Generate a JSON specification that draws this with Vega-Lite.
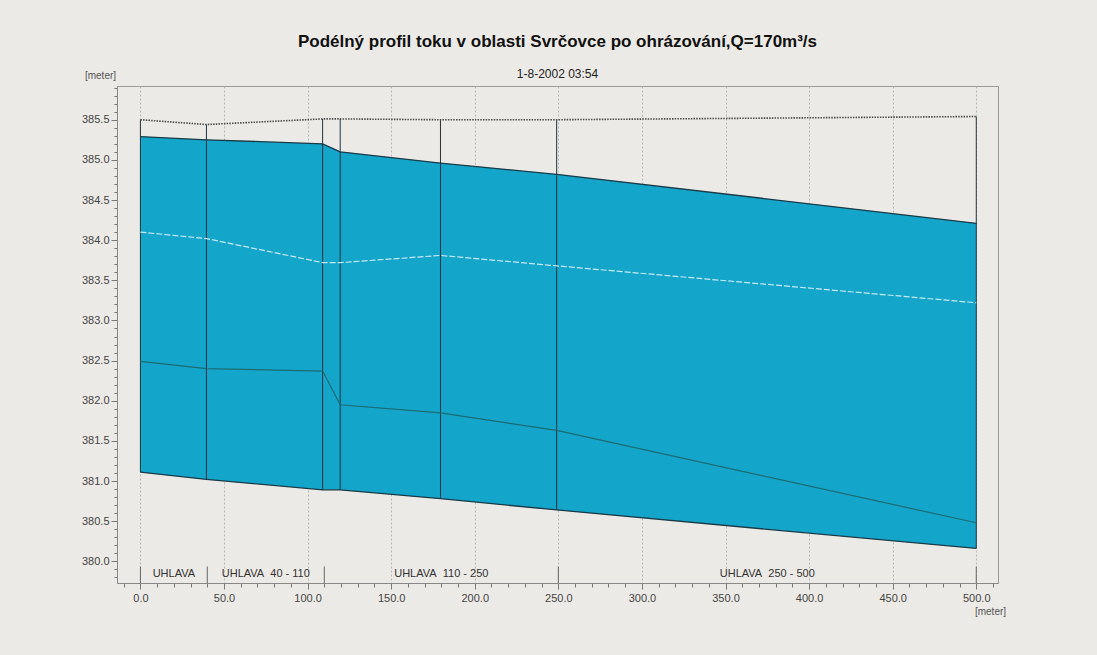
{
  "$schema": "https://vega.github.io/schema/vega-lite/v6.json",
  "width": 881,
  "height": 497,
  "autosize": {"type": "none"},
  "padding": {"left": 117, "top": 86, "right": 99, "bottom": 72},
  "background": "#eceae6",
  "config": {
    "font": "Liberation Sans",
    "view": {"stroke": "#9a9a9a", "strokeWidth": 1},
    "axisY": {
      "titleX": -17,
      "titleY": -11,
      "titleAlign": "center",
      "titleBaseline": "middle",
      "titleAngle": 0,
      "titleFont": "Liberation Sans",
      "titleFontSize": 10,
      "titleFontWeight": "normal",
      "titleColor": "#555555",
      "tickCount": 62,
      "labelExpr": "(abs(datum.value * 2 - round(datum.value * 2)) < 0.001 && datum.value >= 379.99 && datum.value <= 385.51) ? format(datum.value, '.1f') : ''",
      "labelFontSize": 11,
      "labelColor": "#444444",
      "labelPadding": 2,
      "labelOverlap": false,
      "labelFlush": false,
      "labelBound": false,
      "tickSize": {"condition": {"test": "abs(datum.value * 2 - round(datum.value * 2)) < 0.001", "value": 6}, "value": 3},
      "tickColor": "#777777",
      "domainColor": "#888888",
      "grid": true,
      "gridColor": "#aaaaaa",
      "gridDash": [2, 2],
      "gridWidth": 0.8,
      "gridOpacity": {"condition": {"test": "abs(datum.value * 2 - round(datum.value * 2)) < 0.001 && datum.value >= 379.99 && datum.value <= 385.51", "value": 1}, "value": 0}
    }
  },
  "title": {
    "text": "Podélný profil toku v oblasti Svrčovce po ohrázování,Q=170m³/s",
    "subtitle": "1-8-2002 03:54",
    "anchor": "middle",
    "frame": "group",
    "font": "Liberation Sans",
    "fontSize": 17,
    "fontWeight": "bold",
    "color": "#111111",
    "subtitleFont": "Liberation Sans",
    "subtitleFontSize": 12,
    "subtitleColor": "#222222",
    "subtitlePadding": 18,
    "offset": -11
  },
  "datasets": {
    "sections": [
      {"x": 0, "bank": 385.50, "ws": 385.29, "energy": 384.10, "green": 382.49, "bed": 381.11},
      {"x": 39.5, "bank": 385.44, "ws": 385.25, "energy": 384.02, "green": 382.40, "bed": 381.02},
      {"x": 109, "bank": 385.51, "ws": 385.20, "energy": 383.72, "green": 382.37, "bed": 380.89},
      {"x": 119.5, "bank": 385.51, "ws": 385.10, "energy": 383.72, "green": 381.95, "bed": 380.89},
      {"x": 179.5, "bank": 385.50, "ws": 384.96, "energy": 383.81, "green": 381.85, "bed": 380.78},
      {"x": 249, "bank": 385.50, "ws": 384.82, "energy": 383.68, "green": 381.63, "bed": 380.64},
      {"x": 500, "bank": 385.54, "ws": 384.21, "energy": 383.22, "green": 380.48, "bed": 380.16}
    ],
    "dividers": [{"x": 0}, {"x": 40}, {"x": 110}, {"x": 250}, {"x": 500}],
    "reaches": [
      {"x": 20, "label": "UHLAVA"},
      {"x": 75, "label": "UHLAVA\u00a0 40 - 110"},
      {"x": 180, "label": "UHLAVA\u00a0 110 - 250"},
      {"x": 375, "label": "UHLAVA\u00a0 250 - 500"}
    ]
  },
  "encoding": {
    "x": {
      "field": "x",
      "type": "quantitative",
      "scale": {"domain": [-14, 513], "nice": false, "zero": false},
      "axis": {
        "title": "[meter]",
        "titleX": 873,
        "titleY": 28,
        "titleAlign": "center",
        "titleBaseline": "middle",
        "titleAngle": 0,
        "titleFont": "Liberation Sans",
        "titleFontSize": 10,
        "titleFontWeight": "normal",
        "titleColor": "#555555",
        "values": [-10, 0, 10, 20, 30, 40, 50, 60, 70, 80, 90, 100, 110, 120, 130, 140, 150, 160, 170, 180, 190, 200, 210, 220, 230, 240, 250, 260, 270, 280, 290, 300, 310, 320, 330, 340, 350, 360, 370, 380, 390, 400, 410, 420, 430, 440, 450, 460, 470, 480, 490, 500, 510],
        "labelExpr": "(datum.value % 50 === 0 && datum.value >= 0) ? format(datum.value, '.1f') : ''",
        "labelFontSize": 11,
        "labelColor": "#444444",
        "labelPadding": 3,
        "labelOverlap": false,
        "labelFlush": false,
        "labelBound": false,
        "tickSize": {"condition": {"test": "datum.value % 50 === 0", "value": 6}, "value": 4},
        "tickColor": "#777777",
        "domainColor": "#888888",
        "grid": true,
        "gridColor": "#aaaaaa",
        "gridDash": [2, 2],
        "gridWidth": 0.8,
        "gridOpacity": {"condition": {"test": "datum.value % 50 === 0 && datum.value >= 0 && datum.value <= 500", "value": 1}, "value": 0}
      }
    }
  },
  "layer": [
    {
      "data": {"name": "sections"},
      "mark": {"type": "area", "color": "#14a6ca", "opacity": 1},
      "encoding": {
        "y": {
          "field": "ws",
          "type": "quantitative",
          "scale": {"domain": [379.73, 385.92], "nice": false, "zero": false},
          "axis": {"title": "[meter]"}
        },
        "y2": {"field": "bed"}
      }
    },
    {
      "data": {"name": "sections"},
      "mark": {"type": "rule", "color": "#1e3440", "strokeWidth": 1},
      "encoding": {
        "y": {"field": "bank", "type": "quantitative"},
        "y2": {"field": "bed"}
      }
    },
    {
      "data": {"name": "sections"},
      "mark": {"type": "line", "color": "#4a4a4a", "strokeWidth": 1.6, "strokeDash": [1.5, 1.2]},
      "encoding": {"y": {"field": "bank", "type": "quantitative"}}
    },
    {
      "data": {"name": "sections"},
      "mark": {"type": "line", "color": "#1a3a48", "strokeWidth": 1.3},
      "encoding": {"y": {"field": "ws", "type": "quantitative"}}
    },
    {
      "data": {"name": "sections"},
      "mark": {"type": "line", "color": "#1a3a48", "strokeWidth": 1.3},
      "encoding": {"y": {"field": "bed", "type": "quantitative"}}
    },
    {
      "data": {"name": "sections"},
      "mark": {"type": "line", "color": "#c6e9f2", "strokeWidth": 1.2, "strokeDash": [6, 2]},
      "encoding": {"y": {"field": "energy", "type": "quantitative"}}
    },
    {
      "data": {"name": "sections"},
      "mark": {"type": "line", "color": "#1c6b70", "strokeWidth": 1.2},
      "encoding": {"y": {"field": "green", "type": "quantitative"}}
    },
    {
      "data": {"name": "dividers"},
      "mark": {"type": "rule", "color": "#666666", "strokeWidth": 1},
      "encoding": {
        "y": {"datum": 379.935, "type": "quantitative"},
        "y2": {"datum": 379.73}
      }
    },
    {
      "data": {"name": "reaches"},
      "mark": {"type": "text", "font": "Liberation Sans", "fontSize": 11, "color": "#333333", "align": "center", "baseline": "middle"},
      "encoding": {
        "y": {"datum": 379.84, "type": "quantitative"},
        "text": {"field": "label"}
      }
    }
  ]
}
